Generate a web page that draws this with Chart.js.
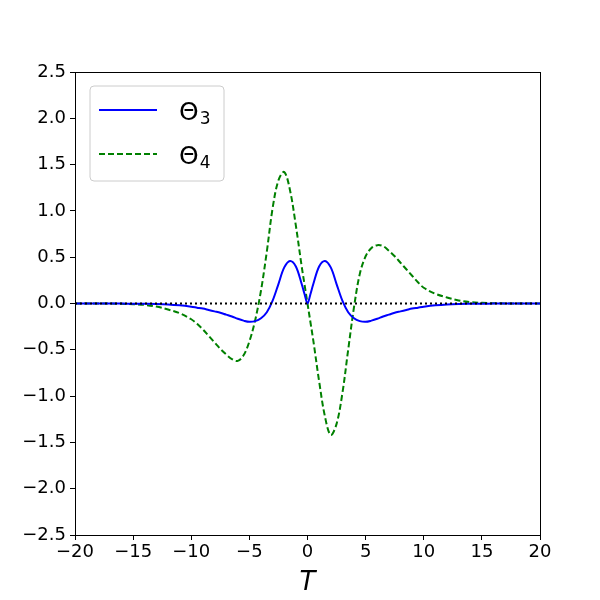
<!DOCTYPE html>
<html>
<head>
<meta charset="utf-8">
<script src="https://cdn.jsdelivr.net/npm/chart.js@4/dist/chart.umd.min.js"></script>
<style>
  html, body { margin: 0; padding: 0; background: #fff; }
  #wrap { width: 600px; height: 600px; }
</style>
</head>
<body>
<div id="wrap"><canvas id="thetaChart" width="600" height="600"></canvas></div>
<script>
// values
const tValues = [-20, -18, -16, -15, -14, -13, -12, -11, -10, -9.5, -9, -8.5, -8, -7.5, -7, -6.5, -6, -5.5, -5, -4.5, -4, -3.5, -3, -2.5, -2, -1.5, -1, -0.5, -0.25, 0,
                 0.25, 0.5, 1, 1.5, 2, 2.5, 3, 3.5, 4, 4.5, 5, 5.5, 6, 6.5, 7, 7.5, 8, 8.5, 9, 9.5, 10, 11, 12, 13, 14, 15, 16, 18, 20];
const theta3 = [0, 0, -0.001, -0.002, -0.003, -0.005, -0.01, -0.02, -0.035, -0.045, -0.055, -0.07, -0.085, -0.1, -0.12, -0.14, -0.165, -0.185, -0.198, -0.19, -0.16, -0.095, 0.03, 0.21, 0.39, 0.46, 0.4, 0.21, 0.1, 0,
                0.1, 0.21, 0.4, 0.46, 0.39, 0.21, 0.03, -0.095, -0.16, -0.19, -0.198, -0.185, -0.165, -0.14, -0.12, -0.1, -0.085, -0.07, -0.055, -0.045, -0.035, -0.02, -0.01, -0.005, -0.003, -0.002, -0.001, 0, 0];
const theta4 = [0, 0, -0.003, -0.007, -0.015, -0.033, -0.065, -0.105, -0.17, -0.22, -0.28, -0.35, -0.42, -0.49, -0.55, -0.6, -0.62, -0.56, -0.41, -0.18, 0.14, 0.56, 1.03, 1.33, 1.42, 1.22, 0.84, 0.4, 0.2, 0,
                -0.2, -0.4, -0.84, -1.22, -1.42, -1.3, -0.97, -0.5, -0.04, 0.32, 0.51, 0.6, 0.63, 0.62, 0.57, 0.51, 0.44, 0.37, 0.3, 0.23, 0.17, 0.105, 0.065, 0.033, 0.015, 0.007, 0.003, 0, 0];
const zeroLineT = [-20, 20];
const zeroLineY = [0, 0];
const xTicks = [-20, -15, -10, -5, 0, 5, 10, 15, 20];
const yTicks = [-2.5, -2.0, -1.5, -1.0, -0.5, 0.0, 0.5, 1.0, 1.5, 2.0, 2.5];

const toPoints = (xs, ys) => xs.map((x, i) => ({ x: x, y: ys[i] }));
const minus = s => s.replace('-', '\u2212');

// frame around the plot area plus the matplotlib-style legend
const framePlugin = {
    id: 'frame',
    afterDraw(chart) {
        const ctx = chart.ctx;
        const a = chart.chartArea;
        ctx.save();
        ctx.strokeStyle = '#000';
        ctx.lineWidth = 1;
        ctx.strokeRect(a.left + 0.5, a.top + 0.5, a.right - a.left, a.bottom - a.top);

        // legend box
        const bx = 90, by = 86, bw = 134, bh = 95, r = 4;
        ctx.beginPath();
        ctx.moveTo(bx + r, by);
        ctx.arcTo(bx + bw, by, bx + bw, by + bh, r);
        ctx.arcTo(bx + bw, by + bh, bx, by + bh, r);
        ctx.arcTo(bx, by + bh, bx, by, r);
        ctx.arcTo(bx, by, bx + bw, by, r);
        ctx.closePath();
        ctx.fillStyle = 'rgba(255,255,255,0.8)';
        ctx.fill();
        ctx.strokeStyle = '#cccccc';
        ctx.stroke();

        const entries = [
            { color: '#0000ff', dash: [], y: 110, sub: '3' },
            { color: '#008000', dash: [6, 3], y: 154, sub: '4' }
        ];
        entries.forEach(e => {
            ctx.beginPath();
            ctx.setLineDash(e.dash);
            ctx.strokeStyle = e.color;
            ctx.lineWidth = 2;
            ctx.moveTo(99, e.y);
            ctx.lineTo(157, e.y);
            ctx.stroke();
            ctx.setLineDash([]);
            ctx.fillStyle = '#000';
            ctx.textBaseline = 'alphabetic';
            ctx.textAlign = 'left';
            ctx.font = '25px "DejaVu Sans"';
            ctx.fillText('\u0398', 179, e.y + 10);
            const w = ctx.measureText('\u0398').width;
            ctx.font = '17px "DejaVu Sans"';
            ctx.fillText(e.sub, 179 + w + 1, e.y + 14);
        });
        ctx.restore();
    }
};

function createChart() {
    const ctx = document.getElementById('thetaChart').getContext('2d');
    new Chart(ctx, {
        type: 'line',
        data: {
            datasets: [{
                label: 'zero',
                data: toPoints(zeroLineT, zeroLineY),
                borderColor: '#000',
                borderWidth: 2,
                borderDash: [2, 3],
                pointRadius: 0,
                fill: false
            },
            {
                label: 'Θ3',
                data: toPoints(tValues, theta3),
                borderColor: '#0000ff',
                borderWidth: 2,
                pointRadius: 0,
                tension: 0.35,
                fill: false
            },
            {
                label: 'Θ4',
                data: toPoints(tValues, theta4),
                borderColor: '#008000',
                borderWidth: 2,
                borderDash: [6, 3],
                pointRadius: 0,
                tension: 0.35,
                fill: false
            }]
        },
        options: {
            responsive: false,
            animation: false,
            layout: { padding: { top: 72, right: 60, left: 0, bottom: 0 } },
            plugins: {
                legend: { display: false },
                tooltip: { enabled: false }
            },
            scales: {
                x: {
                    type: 'linear',
                    min: -20,
                    max: 20,
                    afterBuildTicks: axis => { axis.ticks = xTicks.map(v => ({ value: v })); },
                    afterFit: axis => { axis.height = 65; },
                    grid: { drawOnChartArea: false, drawTicks: true, tickLength: 5, color: '#000' },
                    border: { display: true, color: '#000' },
                    ticks: {
                        color: '#000',
                        padding: 2,
                        maxRotation: 0,
                        font: { family: 'DejaVu Sans', size: 18 },
                        callback: v => minus(String(v))
                    },
                    title: {
                        display: true,
                        text: 'T',
                        color: '#000',
                        padding: { top: 0, bottom: 1 },
                        font: { family: 'DejaVu Sans', size: 26, style: 'italic' }
                    }
                },
                y: {
                    min: -2.5,
                    max: 2.5,
                    afterBuildTicks: axis => { axis.ticks = yTicks.map(v => ({ value: v })); },
                    afterFit: axis => { axis.width = 75; },
                    grid: { drawOnChartArea: false, drawTicks: true, tickLength: 5, color: '#000' },
                    border: { display: true, color: '#000' },
                    ticks: {
                        color: '#000',
                        padding: 4,
                        font: { family: 'DejaVu Sans', size: 18 },
                        callback: v => minus(v.toFixed(1))
                    }
                }
            }
        },
        plugins: [framePlugin]
    });
}

createChart();
</script>
</body>
</html>
